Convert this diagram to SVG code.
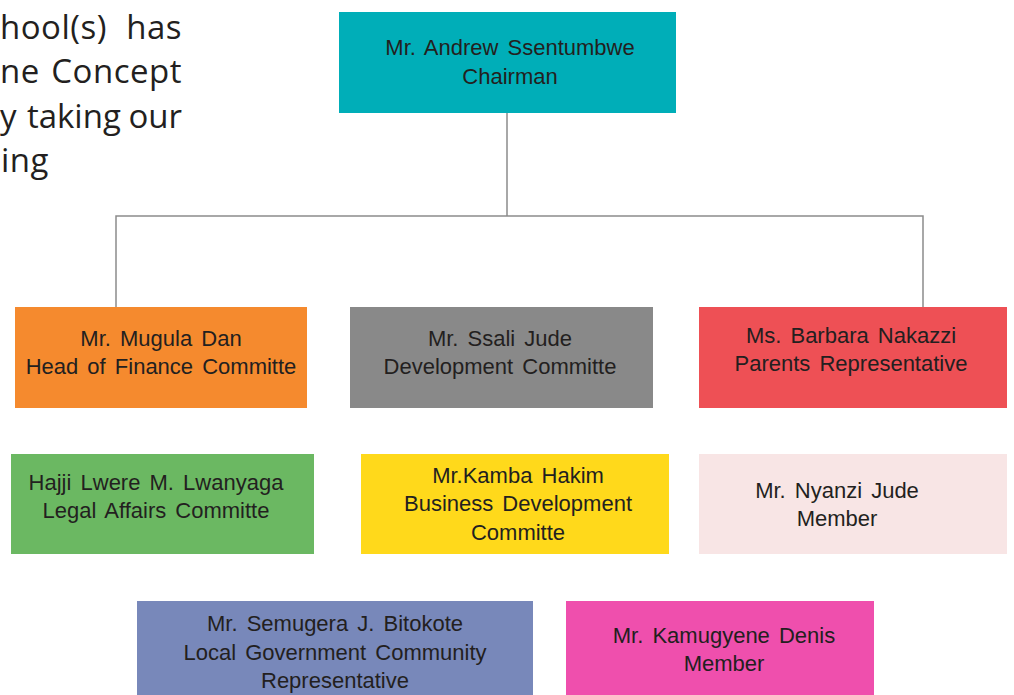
<svg xmlns="http://www.w3.org/2000/svg" width="1014" height="695" viewBox="0 0 1014 695">
<style>
.lbl{font-family:"Liberation Sans",Arial,sans-serif;font-size:22px;fill:#231F20;text-anchor:middle;word-spacing:3px}
.para{font-family:"Open Sans","Noto Sans",sans-serif;font-size:33px;letter-spacing:0.5px;fill:#231F20}
.conn{stroke:#8C8C8C;stroke-width:1.5;fill:none}
</style>
<rect width="1014" height="695" fill="#FFFFFF"/>
<g id="paragraph">
<text class="para" y="39"><tspan x="0">hool(s)</tspan> <tspan x="182" text-anchor="end">has</tspan></text>
<text class="para" y="83"><tspan x="0">ne</tspan> <tspan x="182" text-anchor="end">Concept</tspan></text>
<text class="para" y="128"><tspan x="0">y</tspan> <tspan x="182" text-anchor="end" letter-spacing="0" word-spacing="-1">taking our</tspan></text>
<text class="para" x="1" y="172">ing</text>
</g>
<g id="connectors">
<path class="conn" d="M507 113 V216 M116 307 V216 H923 V307"/>
</g>
<g id="chairman">
<rect x="339" y="12" width="337" height="101" fill="#00AEB8"/>
<text class="lbl" x="510" y="55">Mr. Andrew Ssentumbwe</text>
<text class="lbl" x="510" y="84">Chairman</text>
</g>
<g id="finance">
<rect x="15" y="307" width="292" height="101" fill="#F58A2E"/>
<text class="lbl" x="161" y="346">Mr. Mugula Dan</text>
<text class="lbl" x="161" y="374">Head of Finance Committe</text>
</g>
<g id="development">
<rect x="350" y="307" width="303" height="101" fill="#898989"/>
<text class="lbl" x="500" y="346">Mr. Ssali Jude</text>
<text class="lbl" x="500" y="374">Development Committe</text>
</g>
<g id="parents">
<rect x="699" y="307" width="308" height="101" fill="#EE5055"/>
<text class="lbl" x="851" y="343">Ms. Barbara Nakazzi</text>
<text class="lbl" x="851" y="371">Parents Representative</text>
</g>
<g id="legal">
<rect x="11" y="454" width="303" height="100" fill="#6BB862"/>
<text class="lbl" x="156" y="490">Hajji Lwere M. Lwanyaga</text>
<text class="lbl" x="156" y="518">Legal Affairs Committe</text>
</g>
<g id="business">
<rect x="361" y="454" width="308" height="100" fill="#FFD91B"/>
<text class="lbl" x="518" y="483">Mr.Kamba Hakim</text>
<text class="lbl" x="518" y="511">Business Development</text>
<text class="lbl" x="518" y="540">Committe</text>
</g>
<g id="nyanzi">
<rect x="699" y="454" width="308" height="100" fill="#F8E5E5"/>
<text class="lbl" x="837" y="498">Mr. Nyanzi Jude</text>
<text class="lbl" x="837" y="526">Member</text>
</g>
<g id="localgov">
<rect x="137" y="601" width="396" height="94" fill="#7888BA"/>
<text class="lbl" x="335" y="631">Mr. Semugera J. Bitokote</text>
<text class="lbl" x="335" y="660">Local Government Community</text>
<text class="lbl" x="335" y="688">Representative</text>
</g>
<g id="kamugyene">
<rect x="566" y="601" width="308" height="94" fill="#EF4FAD"/>
<text class="lbl" x="724" y="643">Mr. Kamugyene Denis</text>
<text class="lbl" x="724" y="671">Member</text>
</g>
</svg>
